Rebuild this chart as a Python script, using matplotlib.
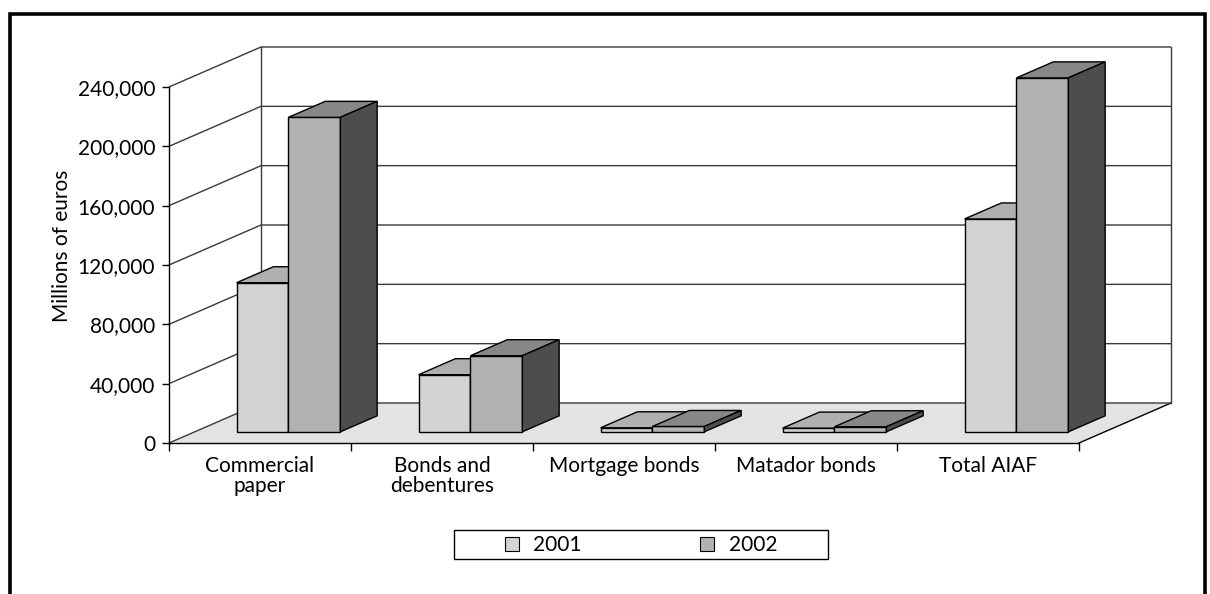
import matplotlib
matplotlib.use("Agg")
import matplotlib.pyplot as plt
from matplotlib.patches import Polygon, Rectangle, Patch
from matplotlib.ticker import FuncFormatter, FixedLocator

# ---- data -------------------------------------------------------------
categories = ["Commercial\npaper", "Bonds and\ndebentures", "Mortgage bonds",
              "Matador bonds", "Total AIAF"]
series_labels = ["2001", "2002"]
values_2001 = [100500, 38500, 2700, 2500, 143500]
values_2002 = [212000, 51300, 3600, 3400, 238600]
y_ticks = [0, 40000, 80000, 120000, 160000, 200000, 240000]
y_label = "Millions of euros"

# ---- styling ----------------------------------------------------------
plt.rcParams['font.family'] = ['Lato', 'DejaVu Sans']
FS = 15
front_colors = ["#d3d3d3", "#b2b2b2"]
top_colors = ["#b0b0b0", "#878787"]
side_colors = ["#9a9a9a", "#4d4d4d"]
floor_color = "#e3e3e3"
grid_color = "#3a3a3a"

W, H = 1210, 594
fig = plt.figure(figsize=(W / 100, H / 100), dpi=100)
ax = fig.add_axes([169 / W, 151 / H, 910 / W, 356 / H])
n = len(categories)
ymax = y_ticks[-1]
ax.set_xlim(0, n)
ax.set_ylim(0, ymax)

# oblique depth of the chart box, expressed in data units
depth_px = (92.0, 40.0)
px_per_x = 910.0 / n
px_per_y = 356.0 / ymax
DX = depth_px[0] / px_per_x
DY = depth_px[1] / px_per_y

# axes spines / ticks
for s in ("top", "right"):
    ax.spines[s].set_visible(False)
for s in ("left", "bottom"):
    ax.spines[s].set_color("black")
    ax.spines[s].set_linewidth(1.0)
ax.patch.set_alpha(0)
ax.set_yticks(y_ticks)
ax.yaxis.set_major_formatter(FuncFormatter(lambda v, p: f"{int(v):,}"))
ax.tick_params(axis="y", direction="out", length=5, width=1.0, pad=5,
               labelsize=FS, colors="black")
ax.xaxis.set_major_locator(FixedLocator(range(n + 1)))
ax.xaxis.set_minor_locator(FixedLocator([i + 0.5 for i in range(n)]))
ax.xaxis.set_major_formatter(FuncFormatter(lambda v, p: ""))
ax.set_xticklabels(categories, minor=True)
ax.tick_params(axis="x", which="major", direction="out", length=6, width=1.0)
ax.tick_params(axis="x", which="minor", length=0, pad=9, labelsize=FS)
for lab in ax.get_xticklabels(minor=True):
    lab.set_linespacing(1.05)

# floor
floor = Polygon([(0, 0), (n, 0), (n + DX, DY), (DX, DY)], closed=True,
                facecolor=floor_color, edgecolor="none", zorder=0.5,
                clip_on=False)
ax.add_patch(floor)
ax.plot([n, n + DX], [0, DY], color="black", lw=1.0, zorder=1,
        clip_on=False)

# walls: gridlines on left and back walls
for v in y_ticks:
    ax.plot([0, DX, n + DX], [v, v + DY, v + DY], color=grid_color,
            lw=1.0, zorder=1, clip_on=False, solid_capstyle="butt")
for xb in (DX, n + DX):
    ax.plot([xb, xb], [DY, ymax + DY], color=grid_color, lw=1.0,
            zorder=1, clip_on=False)

# 3-D bars
bar_w = 0.285
start = 0.23
f0, f1 = 0.28, 0.68
series = [values_2001, values_2002]
z = 3.0
for i in range(n):
    for s, vals in enumerate(series):
        v = vals[i]
        x0 = i + start + s * bar_w
        x1 = x0 + bar_w
        ox0, oy0 = f0 * DX, f0 * DY
        ox1, oy1 = f1 * DX, f1 * DY
        ax.bar(x0 + ox0, v, width=bar_w, bottom=oy0, align="edge",
               color=front_colors[s], edgecolor="black", linewidth=1.0,
               zorder=z, clip_on=False)
        top = Polygon([(x0 + ox0, oy0 + v), (x1 + ox0, oy0 + v),
                       (x1 + ox1, oy1 + v), (x0 + ox1, oy1 + v)],
                      closed=True, facecolor=top_colors[s],
                      edgecolor="black", lw=1.0, zorder=z + 0.001,
                      clip_on=False)
        side = Polygon([(x1 + ox0, oy0), (x1 + ox1, oy1),
                        (x1 + ox1, oy1 + v), (x1 + ox0, oy0 + v)],
                       closed=True, facecolor=side_colors[s],
                       edgecolor="black", lw=1.0, zorder=z + 0.002,
                       clip_on=False)
        ax.add_patch(top)
        ax.add_patch(side)
        z += 0.01

# y-axis title
fig.text(62 / W, 1 - 246 / H, y_label, rotation=90, ha="center",
         va="center", fontsize=FS)

# legend
handles = [Patch(facecolor=front_colors[k], edgecolor="black", linewidth=0.8,
                 label=series_labels[k]) for k in range(2)]
fig.legend(handles=handles, loc="center", bbox_to_anchor=(641 / W, 1 - 545 / H),
           ncol=2, frameon=False, fontsize=FS, handlelength=0.65,
           handleheight=0.65, handletextpad=0.7, columnspacing=5.7)
fig.patches.append(Rectangle((454 / W, 1 - 559 / H), 374 / W, 29 / H,
                             transform=fig.transFigure, fill=False,
                             edgecolor="black", lw=1.0))

# outer frame
fig.patches.append(Rectangle((9.5 / W, -0.05), (1205 - 9.5) / W,
                             1.05 - 13.5 / H, transform=fig.transFigure,
                             fill=False, edgecolor="black", lw=2.6))

fig.savefig("out.png", dpi=100)
